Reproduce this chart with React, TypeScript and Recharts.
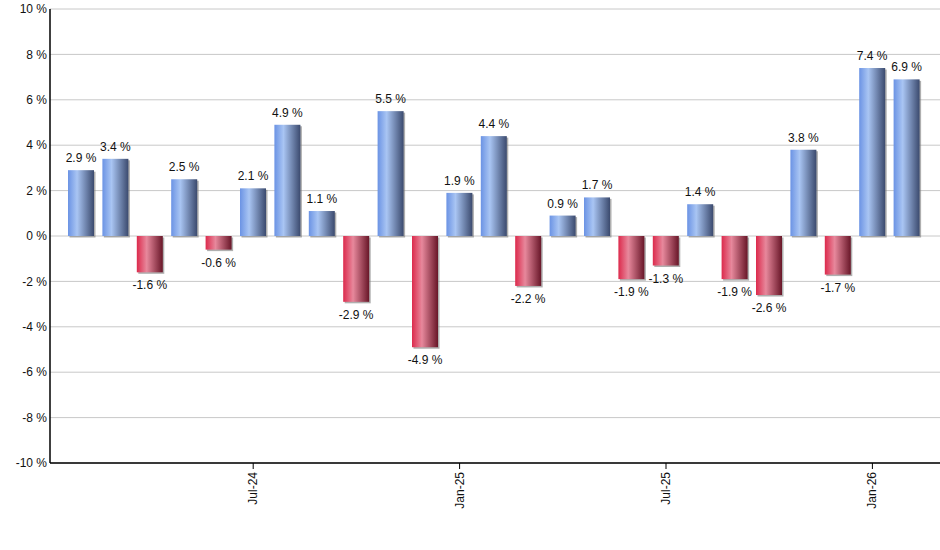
import React from 'react';
import { BarChart, Bar, XAxis, YAxis, CartesianGrid, LabelList } from 'recharts';

// monthly returns, Feb-24 .. Feb-26
const MONTHS = [
  'Feb-24', 'Mar-24', 'Apr-24', 'May-24', 'Jun-24', 'Jul-24', 'Aug-24', 'Sep-24', 'Oct-24',
  'Nov-24', 'Dec-24', 'Jan-25', 'Feb-25', 'Mar-25', 'Apr-25', 'May-25', 'Jun-25', 'Jul-25',
  'Aug-25', 'Sep-25', 'Oct-25', 'Nov-25', 'Dec-25', 'Jan-26', 'Feb-26',
];
const RETURNS = [
  2.9, 3.4, -1.6, 2.5, -0.6, 2.1, 4.9, 1.1, -2.9,
  5.5, -4.9, 1.9, 4.4, -2.2, 0.9, 1.7, -1.9, -1.3,
  1.4, -1.9, -2.6, 3.8, -1.7, 7.4, 6.9,
];
const X_TICKS = ['Jul-24', 'Jan-25', 'Jul-25', 'Jan-26'];
const Y_TICKS = [-10, -8, -6, -4, -2, 0, 2, 4, 6, 8, 10];

const FONT = '"Liberation Sans", Arial, sans-serif';

const data = MONTHS.map((month, i) => ({ month, value: RETURNS[i] }));

const GradientBar = (props: any) => {
  const { x, y, width, height, value } = props;
  const top = Math.min(y, y + height);
  const h = Math.abs(height);
  const fill = value >= 0 ? 'url(#gradUp)' : 'url(#gradDown)';
  return (
    <g>
      <rect x={x + 1.5} y={top + 1.5} width={width} height={h} fill="#7a7a7a" fillOpacity={0.6} />
      <rect x={x} y={top} width={width} height={h} fill={fill} />
    </g>
  );
};

const ValueLabel = (props: any) => {
  const { x, y, width, height, value } = props;
  const top = Math.min(y, y + height);
  const bottom = Math.max(y, y + height);
  const ty = value >= 0 ? top - 8 : bottom + 17;
  return (
    <text x={x + width / 2} y={ty} textAnchor="middle" fontSize={12} fontFamily={FONT} fill="#111">
      {`${value.toFixed(1)} %`}
    </text>
  );
};

const MonthTick = (props: any) => {
  const { x, y, payload } = props;
  if (!X_TICKS.includes(payload.value)) return null;
  return (
    <g>
      <line x1={x} x2={x} y1={y - 8} y2={y - 2} stroke="#000" />
      <text
        x={x + 4}
        y={y + 1}
        transform={`rotate(-90 ${x + 4} ${y + 1})`}
        textAnchor="end"
        fontSize={12}
        fontFamily={FONT}
        fill="#111"
      >
        {payload.value}
      </text>
    </g>
  );
};

export default function App() {
  return (
    <div style={{ position: 'absolute', left: 0, top: 0, width: 940, height: 550, background: '#fff' }}>
      <BarChart width={940} height={550} data={data} margin={{ top: 9, right: 0, left: 0, bottom: 0 }}>
        <defs>
          <linearGradient id="gradUp" x1="0" y1="0" x2="1" y2="0">
            <stop offset="0%" stopColor="#6b93e4" />
            <stop offset="35%" stopColor="#a9c5f3" />
            <stop offset="100%" stopColor="#3b4a6e" />
          </linearGradient>
          <linearGradient id="gradDown" x1="0" y1="0" x2="1" y2="0">
            <stop offset="0%" stopColor="#dc2a4c" />
            <stop offset="38%" stopColor="#e7889c" />
            <stop offset="100%" stopColor="#681628" />
          </linearGradient>
        </defs>
        <CartesianGrid vertical={false} stroke="#c8c8c8" />
        <XAxis
          dataKey="month"
          interval={0}
          height={87}
          padding={{ left: 14, right: 16 }}
          tickLine={false}
          axisLine={{ stroke: '#000', strokeWidth: 1.5 }}
          tick={<MonthTick />}
        />
        <YAxis
          domain={[-10, 10]}
          ticks={Y_TICKS}
          width={50}
          tickSize={3}
          tickMargin={0}
          tickLine={false}
          axisLine={{ stroke: '#000', strokeWidth: 1.5 }}
          tickFormatter={(v: number) => `${v} %`}
          tick={{ fontSize: 12, fontFamily: FONT, fill: '#111' }}
        />
        <Bar dataKey="value" barSize={26} shape={<GradientBar />} isAnimationActive={false}>
          <LabelList dataKey="value" content={<ValueLabel />} />
        </Bar>
      </BarChart>
    </div>
  );
}
